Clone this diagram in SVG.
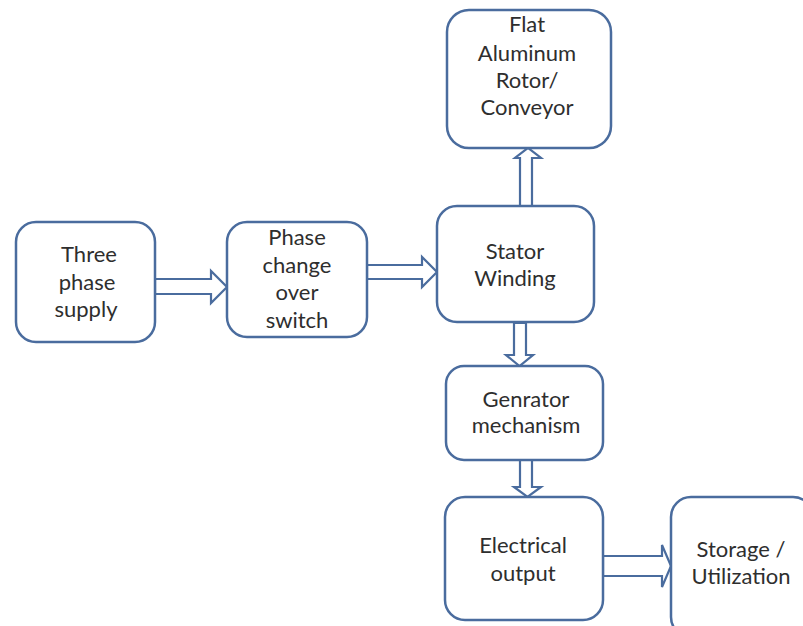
<svg xmlns="http://www.w3.org/2000/svg" width="803" height="626" viewBox="0 0 803 626">
<style>
.box{fill:#fff;stroke:#4a6c9e;stroke-width:2.5}
.arr{fill:#fff;stroke:#4a6c9e;stroke-width:2.2;stroke-linejoin:miter}
text{font-family:Lato,"Open Sans",sans-serif;font-size:22px;fill:#2e2e2e;text-anchor:middle}
</style>
<rect width="803" height="626" fill="#fff"/>
<g id="connectors">
<path class="arr" d="M155 279 H211 V271 L227 287 L211 303 V294 H155 Z"/>
<path class="arr" d="M367 265 H422 V257 L437 272 L422 287 V279 H367 Z"/>
<path class="arr" d="M520 206 V158 H515 L528 148 L541 158 H532 V206 Z"/>
<path class="arr" d="M514 323 V355 H506 L519.5 366 L533 355 H526 V323 Z"/>
<path class="arr" d="M520 460 V487 H514 L527.5 497 L541 487 H532 V460 Z"/>
<path class="arr" d="M603 556 H662 V545 L671 566 L662 587 V576 H603 Z"/>
</g>
<g id="n1"><rect class="box" x="16" y="222" width="139" height="120" rx="20"/>
<text x="89" y="262">Three</text><text x="87" y="290">phase</text><text x="86" y="317">supply</text></g>
<g id="n2"><rect class="box" x="227" y="222" width="140" height="115" rx="20"/>
<text x="297" y="245">Phase</text><text x="297" y="273">change</text><text x="297" y="300">over</text><text x="297" y="328">switch</text></g>
<g id="n3"><rect class="box" x="437" y="206" width="157" height="116" rx="20"/>
<text x="515" y="259">Stator</text><text x="515" y="286">Winding</text></g>
<g id="n4"><rect class="box" x="447" y="10" width="164" height="138" rx="22"/>
<text x="527" y="32">Flat</text><text x="527" y="61">Aluminum</text><text x="527" y="88">Rotor/</text><text x="527" y="115">Conveyor</text></g>
<g id="n5"><rect class="box" x="446" y="366" width="157" height="94" rx="18"/>
<text x="526" y="407">Genrator</text><text x="526" y="433">mechanism</text></g>
<g id="n6"><rect class="box" x="445" y="497" width="158" height="123" rx="20"/>
<text x="523" y="553">Electrical</text><text x="523" y="581">output</text></g>
<g id="n7"><rect class="box" x="671" y="497" width="142" height="140" rx="20"/>
<text x="741" y="557">Storage /</text><text x="741" y="584">Utilization</text></g>
</svg>
